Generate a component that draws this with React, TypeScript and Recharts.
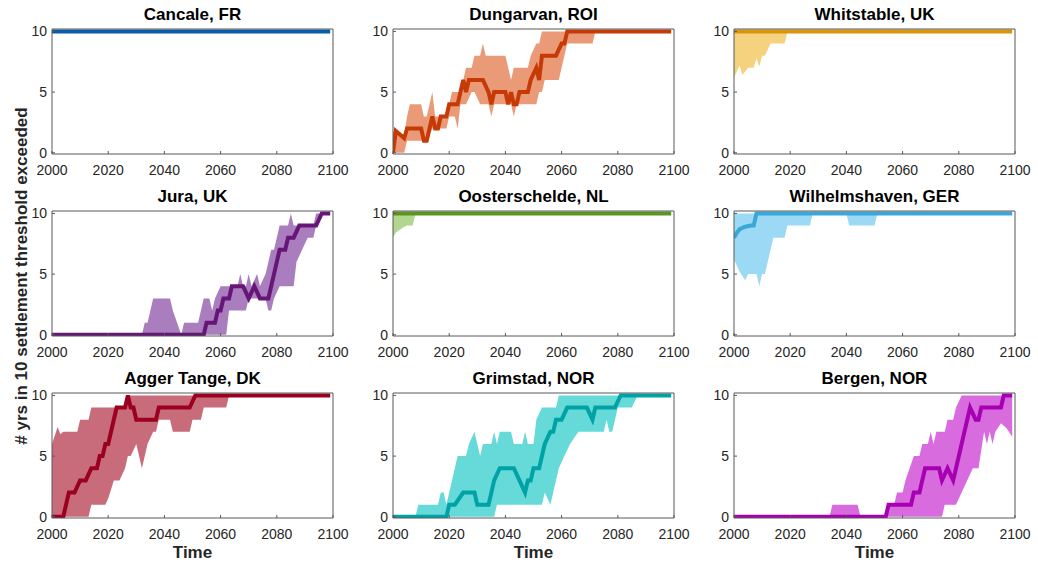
import { ComposedChart, Area, Line, XAxis, YAxis } from 'recharts'

const xTicks = [2000, 2020, 2040, 2060, 2080, 2100]
const yTicks = [0, 5, 10]

// band rows: [year, lower, upper]; median rows: [year, value]
const cancaleBand = [[2000, 10, 10], [2099, 10, 10]]
const cancaleMedian = [[2000, 10], [2099, 10]]

const dungarvanBand = [
  [2000, 0, 1.8], [2004, 0, 1.5], [2005, 1, 3], [2006, 1, 4], [2010, 1, 4], [2011, 1, 3],
  [2012, 1, 3], [2014, 2, 5], [2015, 2, 3], [2019, 2, 3], [2020, 3, 4], [2021, 3, 5],
  [2022, 3, 5], [2023, 2, 5], [2024, 4, 5], [2025, 4, 6], [2026, 4, 7], [2028, 5, 7],
  [2029, 5, 8], [2031, 4, 8], [2032, 4, 9], [2033, 4, 8], [2034, 4, 8], [2035, 3, 8],
  [2036, 4, 8], [2040, 4, 8], [2041, 4, 7], [2042, 4, 6], [2043, 3, 7], [2044, 4, 7],
  [2048, 4, 7], [2049, 4, 8], [2051, 4, 9], [2052, 5, 9], [2053, 5, 10], [2054, 6, 10],
  [2059, 6, 10], [2060, 7, 10], [2062, 9, 10], [2071, 9, 10], [2072, 10, 10], [2099, 10, 10],
]
const dungarvanMedian = [
  [2000, 0], [2001, 1.8], [2004, 1.2], [2005, 2], [2010, 2], [2011, 1], [2012, 1], [2014, 3],
  [2015, 2], [2016, 2], [2017, 3], [2019, 3], [2020, 4], [2023, 4], [2025, 6], [2026, 5],
  [2027, 6], [2032, 6], [2034, 5], [2035, 4], [2036, 5], [2040, 5], [2041, 4], [2042, 5],
  [2043, 4], [2044, 4], [2045, 5], [2048, 5], [2049, 6], [2051, 7], [2052, 6], [2053, 8],
  [2058, 8], [2060, 9], [2061, 9], [2062, 10], [2099, 10],
]

const whitstableBand = [
  [2000, 6.2, 10], [2002, 7.2, 10], [2003, 6.4, 10], [2005, 7, 10], [2007, 7, 10],
  [2008, 7.8, 10], [2009, 7.1, 10], [2010, 8, 10], [2011, 8, 10], [2013, 9, 10],
  [2018, 9, 10], [2019, 10, 10], [2099, 10, 10],
]
const whitstableMedian = [[2000, 10], [2099, 10]]

const juraBand = [
  [2000, 0, 0], [2032, 0, 0], [2033, 0, 1], [2034, 0, 1], [2036, 0, 3], [2042, 0, 3],
  [2043, 0, 2], [2046, 0, 0], [2047, 0, 1], [2052, 0, 1], [2053, 0, 2], [2054, 0, 3],
  [2056, 0, 3], [2057, 0, 2], [2058, 0, 3], [2060, 0, 4], [2062, 0, 4], [2063, 2, 4],
  [2066, 2, 4], [2067, 2, 5], [2068, 2, 4], [2069, 2, 4], [2070, 3, 5], [2071, 3, 4],
  [2073, 3, 5], [2074, 3, 4], [2076, 3, 5], [2077, 2, 6], [2078, 2, 7], [2079, 3, 7],
  [2081, 4, 9], [2084, 4, 9], [2085, 4, 10], [2086, 4, 9], [2087, 6, 9], [2089, 7, 9],
  [2091, 8, 9], [2093, 8, 9], [2094, 9, 10], [2096, 10, 10], [2099, 10, 10],
]
const juraMedian = [
  [2000, 0], [2054, 0], [2055, 1], [2058, 1], [2059, 2], [2060, 2], [2061, 3], [2063, 3],
  [2064, 4], [2068, 4], [2070, 3], [2072, 4], [2074, 3], [2077, 3], [2081, 7], [2083, 7],
  [2084, 8], [2086, 8], [2088, 9], [2094, 9], [2096, 10], [2099, 10],
]

const oosterscheldeBand = [
  [2000, 8, 10], [2001, 8.4, 10], [2002, 8.6, 10], [2004, 8.9, 10], [2005, 9, 10],
  [2007, 9, 10], [2008, 10, 10], [2099, 10, 10],
]
const oosterscheldeMedian = [[2000, 10], [2099, 10]]

const wilhelmshavenBand = [
  [2000, 6.2, 10], [2002, 5.2, 10], [2004, 4.5, 10], [2005, 5, 10], [2008, 5, 10],
  [2009, 4, 10], [2010, 5, 10], [2011, 5, 10], [2014, 8, 10], [2018, 8, 10], [2019, 9, 10],
  [2027, 9, 10], [2028, 10, 10], [2040, 10, 10], [2041, 9, 10], [2050, 9, 10],
  [2051, 10, 10], [2099, 10, 10],
]
const wilhelmshavenMedian = [
  [2000, 8], [2001, 8.4], [2002, 8.7], [2004, 8.9], [2006, 9], [2007, 9], [2008, 10], [2099, 10],
]

const aggerBand = [
  [2000, 0, 6], [2002, 0, 7.4], [2003, 0, 6.8], [2004, 0, 7], [2009, 0, 7], [2010, 0, 8],
  [2013, 0, 8], [2014, 1, 9], [2019, 1, 9], [2020, 1.5, 9], [2022, 3, 9], [2024, 3, 9],
  [2026, 4, 9], [2027, 5, 10], [2028, 5, 10], [2030, 6, 10], [2032, 4, 10], [2034, 6, 10],
  [2036, 7, 10], [2037, 7, 10], [2038, 8, 10], [2042, 8, 10], [2043, 7, 10], [2049, 7, 10],
  [2050, 8, 10], [2053, 8, 10], [2054, 9, 10], [2062, 9, 10], [2063, 10, 10], [2099, 10, 10],
]
const aggerMedian = [
  [2000, 0], [2004, 0], [2006, 2], [2008, 2], [2010, 3], [2012, 3], [2014, 4], [2016, 4],
  [2017, 5], [2018, 5], [2019, 6], [2020, 6], [2023, 9], [2026, 9], [2027, 10], [2028, 9],
  [2029, 9], [2030, 8], [2037, 8], [2038, 9], [2049, 9], [2051, 10], [2099, 10],
]

const grimstadBand = [
  [2000, 0, 0], [2008, 0, 0], [2009, 0, 1], [2016, 0, 1], [2017, 0, 2], [2018, 0, 2],
  [2019, 0, 1], [2020, 0, 2], [2021, 0, 3], [2023, 0, 5], [2026, 0, 5], [2027, 0, 6],
  [2029, 0, 7], [2031, 0, 5], [2032, 0, 6], [2035, 0, 6], [2036, 0, 7], [2037, 1, 6],
  [2038, 1, 7], [2042, 1, 7], [2043, 1, 6], [2046, 1, 6], [2047, 1, 7], [2048, 1, 6],
  [2050, 1, 6], [2051, 1, 8], [2053, 1, 9], [2054, 2, 9], [2055, 1.5, 9], [2056, 1, 9],
  [2057, 2, 9], [2058, 3, 9], [2059, 4, 10], [2061, 5, 10], [2063, 6, 10], [2066, 7, 10],
  [2075, 7, 10], [2076, 8, 10], [2077, 7, 10], [2078, 7, 10], [2079, 8, 10], [2080, 9, 10],
  [2085, 9, 10], [2087, 10, 10], [2099, 10, 10],
]
const grimstadMedian = [
  [2000, 0], [2019, 0], [2020, 1], [2022, 1], [2025, 2], [2029, 2], [2030, 1], [2034, 1],
  [2036, 3], [2038, 4], [2043, 4], [2045, 3], [2047, 2], [2048, 3], [2049, 3], [2050, 4],
  [2052, 4], [2054, 6], [2056, 7], [2057, 7], [2058, 8], [2060, 8], [2062, 9], [2069, 9],
  [2071, 8], [2072, 9], [2079, 9], [2081, 10], [2099, 10],
]

const bergenBand = [
  [2000, 0, 0], [2034, 0, 0], [2035, 0, 1], [2044, 0, 1], [2045, 0, 0], [2054, 0, 0],
  [2055, 0, 1], [2057, 0, 1], [2058, 0, 2], [2060, 0, 2], [2061, 0, 3], [2064, 0, 5],
  [2066, 0, 5], [2067, 0, 6], [2069, 0, 6], [2070, 0, 7], [2071, 0, 6], [2072, 0, 7],
  [2074, 0, 7], [2075, 1, 7], [2076, 1, 8], [2078, 1, 8], [2079, 1, 9], [2081, 2, 10],
  [2085, 4, 10], [2087, 4, 10], [2089, 7, 10], [2090, 6, 10], [2091, 7, 10], [2092, 6, 10],
  [2093, 7, 10], [2095, 7.7, 10], [2097, 7.3, 10], [2099, 6.6, 10],
]
const bergenMedian = [
  [2000, 0], [2054, 0], [2055, 1], [2063, 1], [2064, 2], [2066, 2], [2068, 4], [2073, 4],
  [2074, 3], [2076, 4], [2078, 3], [2081, 6], [2084, 9], [2086, 8], [2087, 8], [2088, 9],
  [2095, 9], [2096, 10], [2099, 10],
]

const panels = [
  { title: 'Cancale, FR', band: cancaleBand, median: cancaleMedian, line: '#0A5CA8', fill: '#4D97D6' },
  { title: 'Dungarvan, ROI', band: dungarvanBand, median: dungarvanMedian, line: '#C53A06', fill: '#EB9A78' },
  { title: 'Whitstable, UK', band: whitstableBand, median: whitstableMedian, line: '#D9960A', fill: '#F4D27E' },
  { title: 'Jura, UK', band: juraBand, median: juraMedian, line: '#661677', fill: '#A97DBE' },
  { title: 'Oosterschelde, NL', band: oosterscheldeBand, median: oosterscheldeMedian, line: '#5C9620', fill: '#B2D68D' },
  { title: 'Wilhelmshaven, GER', band: wilhelmshavenBand, median: wilhelmshavenMedian, line: '#3BA6D8', fill: '#9BD9F5' },
  { title: 'Agger Tange, DK', band: aggerBand, median: aggerMedian, line: '#9B0020', fill: '#C86B7B' },
  { title: 'Grimstad, NOR', band: grimstadBand, median: grimstadMedian, line: '#00A3A5', fill: '#66D9D9' },
  { title: 'Bergen, NOR', band: bergenBand, median: bergenMedian, line: '#A600B2', fill: '#D86BDE' },
]

const colLefts = [52, 393, 734]
const rowTops = [29, 211, 393]
const boxW = 281
const boxH = 125
const yDomain = [-0.1, 10.2]
const axisColor = '#595959'
const textColor = '#262626'
const font = '"Liberation Sans", Arial, sans-serif'
const tickStyle = { fontSize: 14, fill: textColor, fontFamily: font }

const Panel = ({ p, left, top, showTime }) => {
  const band = p.band.map(([year, lo, hi]) => ({ year, range: [lo, hi] }))
  const median = p.median.map(([year, v]) => ({ year, v }))
  return (
    <>
      <div
        style={{
          position: 'absolute', left, top: top - 25, width: boxW, height: 22, lineHeight: '22px',
          textAlign: 'center', fontFamily: font, fontWeight: 'bold', fontSize: 17, color: '#000',
        }}
      >
        {p.title}
      </div>
      <div style={{ position: 'absolute', left: left - 50, top: top - 12 }}>
        <ComposedChart width={boxW + 70} height={boxH + 42} margin={{ top: 11, right: 19, bottom: 0, left: 0 }}>
          <XAxis
            xAxisId="b" type="number" dataKey="year" domain={[2000, 2100]} ticks={xTicks}
            allowDataOverflow interval={0} height={30} tickSize={-3} tickMargin={14}
            tick={tickStyle} stroke={axisColor}
          />
          <XAxis
            xAxisId="t" orientation="top" type="number" dataKey="year" domain={[2000, 2100]}
            ticks={xTicks} allowDataOverflow height={1} tickSize={-3} tick={false} stroke={axisColor}
          />
          <YAxis
            yAxisId="l" type="number" domain={yDomain} ticks={yTicks} allowDataOverflow
            interval={0} width={50} tickSize={-3} tickMargin={8} tick={tickStyle} stroke={axisColor}
          />
          <YAxis
            yAxisId="r" orientation="right" type="number" domain={yDomain} ticks={yTicks}
            allowDataOverflow width={1} tickSize={-3} tick={false} stroke={axisColor}
          />
          <Area
            xAxisId="b" yAxisId="l" data={band} dataKey="range" type="linear"
            fill={p.fill} fillOpacity={1} stroke="none" isAnimationActive={false}
          />
          <Line
            xAxisId="b" yAxisId="l" data={median} dataKey="v" type="linear"
            stroke={p.line} strokeWidth={4} dot={false} isAnimationActive={false}
          />
          {/* invisible series so the top and right box axes get drawn */}
          <Line
            xAxisId="t" yAxisId="r" data={median} dataKey="v" type="linear"
            stroke="none" dot={false} activeDot={false} isAnimationActive={false}
          />
        </ComposedChart>
      </div>
      {showTime && (
        <div
          style={{
            position: 'absolute', left, top: top + boxH + 24, width: boxW, height: 22, lineHeight: '22px',
            textAlign: 'center', fontFamily: font, fontWeight: 'bold', fontSize: 17, color: textColor,
          }}
        >
          Time
        </div>
      )}
    </>
  )
}

const App = () => {
  return (
    <div style={{ position: 'absolute', left: 0, top: 0, width: 1038, height: 569, background: '#fff' }}>
      {panels.map((p, i) => (
        <Panel
          key={p.title}
          p={p}
          left={colLefts[i % 3]}
          top={rowTops[Math.floor(i / 3)]}
          showTime={i >= 6}
        />
      ))}
      <div
        style={{
          position: 'absolute', left: 22, top: 276, transform: 'translate(-50%, -50%) rotate(-90deg)',
          whiteSpace: 'nowrap', fontFamily: font, fontWeight: 'bold', fontSize: 17, color: textColor,
        }}
      >
        # yrs in 10 settlement threshold exceeded
      </div>
    </div>
  )
}

export default App
